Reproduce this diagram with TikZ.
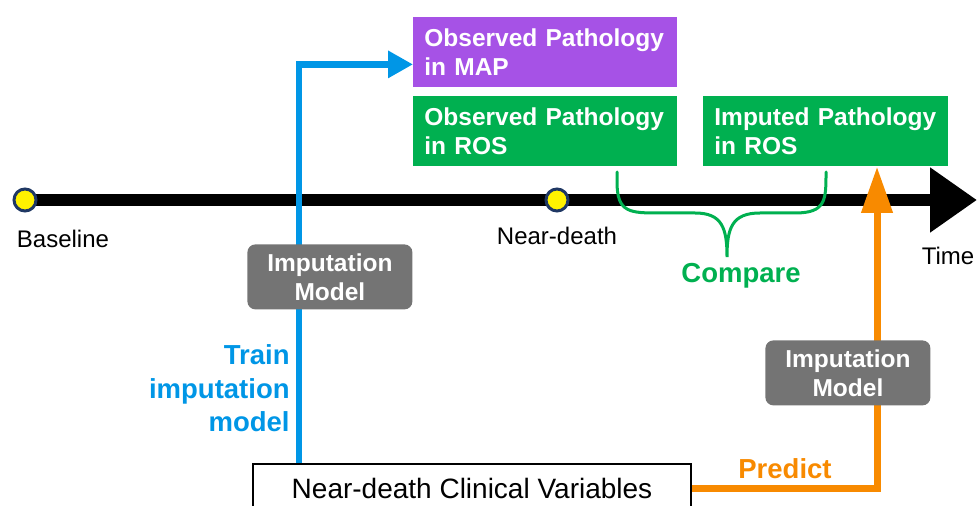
\documentclass[tikz,border=0pt]{standalone}
\usepackage{fontspec}
\setmainfont{Liberation Sans}
\usetikzlibrary{arrows.meta,calc,positioning}
\definecolor{mappurple}{RGB}{166,82,230}
\definecolor{rosgreen}{RGB}{0,176,80}
\definecolor{trainblue}{RGB}{0,150,230}
\definecolor{predorange}{RGB}{248,138,0}
\definecolor{modelgray}{RGB}{116,116,116}
\definecolor{dotnavy}{RGB}{31,56,100}

\begin{document}
\begin{tikzpicture}[x=0.5pt, y=-0.5pt, >=Stealth,
    pathbox/.style 2 args={anchor=north west, fill=#1, text=white, text width=#2, align=left,
        font=\fontsize{12.25}{14.5}\selectfont\bfseries, inner xsep=5.5pt, inner ysep=0pt, minimum height=35pt},
    modelbox/.style={anchor=north west, fill=modelgray, rounded corners=4pt, text=white, align=center,
        font=\fontsize{12.25}{14.5}\selectfont\bfseries, inner sep=0pt, minimum width=82.5pt, minimum height=32.5pt},
    timedot/.style={circle, fill=yellow, draw=dotnavy, line width=1.5pt, minimum size=11pt, inner sep=0pt},
    timelabel/.style={anchor=base, inner sep=0pt, font=\fontsize{12}{14.5}\selectfont},
    steplabel/.style={text=#1, inner sep=0pt, font=\fontsize{13.75}{16.75}\selectfont\bfseries}]

    \clip (0,0) rectangle (977,506);

    \coordinate (tstart) at (25,200);
    \coordinate (tend) at (977,200);
    \coordinate (trainx) at (299,0);
    \coordinate (predx) at (877,0);

    \draw[line width=6pt, -{Triangle[length=23.5pt,width=31pt]}] (tstart) -- (tend);
    \node[timedot] (base) at (tstart) {};
    \node[timedot] (death) at (557,200) {};
    \node[timelabel] (baselbl) at (63,248) {Baseline};
    \node[timelabel] (deathlbl) at (557,245) {Near-death};
    \node[timelabel] (timelbl) at (948,265) {Time};

    \node[pathbox={mappurple}{121pt}] (map) at (413,17) {Observed Pathology\\in MAP};
    \node[pathbox={rosgreen}{121pt}] (obs) at (413,96) {Observed Pathology\\in ROS};
    \node[pathbox={rosgreen}{111.5pt}] (imp) at (703,96) {Imputed Pathology\\in ROS};

    \node[draw, line width=1pt, anchor=north west, minimum width=219pt, minimum height=24pt,
        font=\fontsize{14}{16}\selectfont] (clin) at (252,463) {Near-death Clinical Variables};

    \draw[trainblue, line width=3.25pt, -{Triangle[length=12.5pt,width=13pt]}]
        (clin.north -| trainx) |- ([yshift=-6pt]map.west);
    \draw[predorange, line width=3.5pt, -{Triangle[length=23pt,width=15pt]}]
        (clin.east) -| (predx |- imp.south);

    \draw[rosgreen, line width=1.5pt, line cap=round]
        (617,172) -- (617,182) .. controls (617,213) and (630,213) .. (660,213) -- (695,213)
        .. controls (722,213) and (727,228) .. (727,257)
        .. controls (727,228) and (732,213) .. (760,213) -- (795,213)
        .. controls (826,213) and (826,200) .. (826,172);

    \node[modelbox] (model1) at (247,244) {Imputation\\Model};
    \node[modelbox] (model2) at (765,340) {Imputation\\Model};

    \node[steplabel=trainblue, anchor=east, align=right] (train) at (290,388.5) {Train\\imputation\\model};
    \node[steplabel=rosgreen, anchor=base] (compare) at (741,283) {Compare};
    \node[steplabel=predorange, anchor=base] (predict) at (785,478) {Predict};

\end{tikzpicture}
\end{document}
